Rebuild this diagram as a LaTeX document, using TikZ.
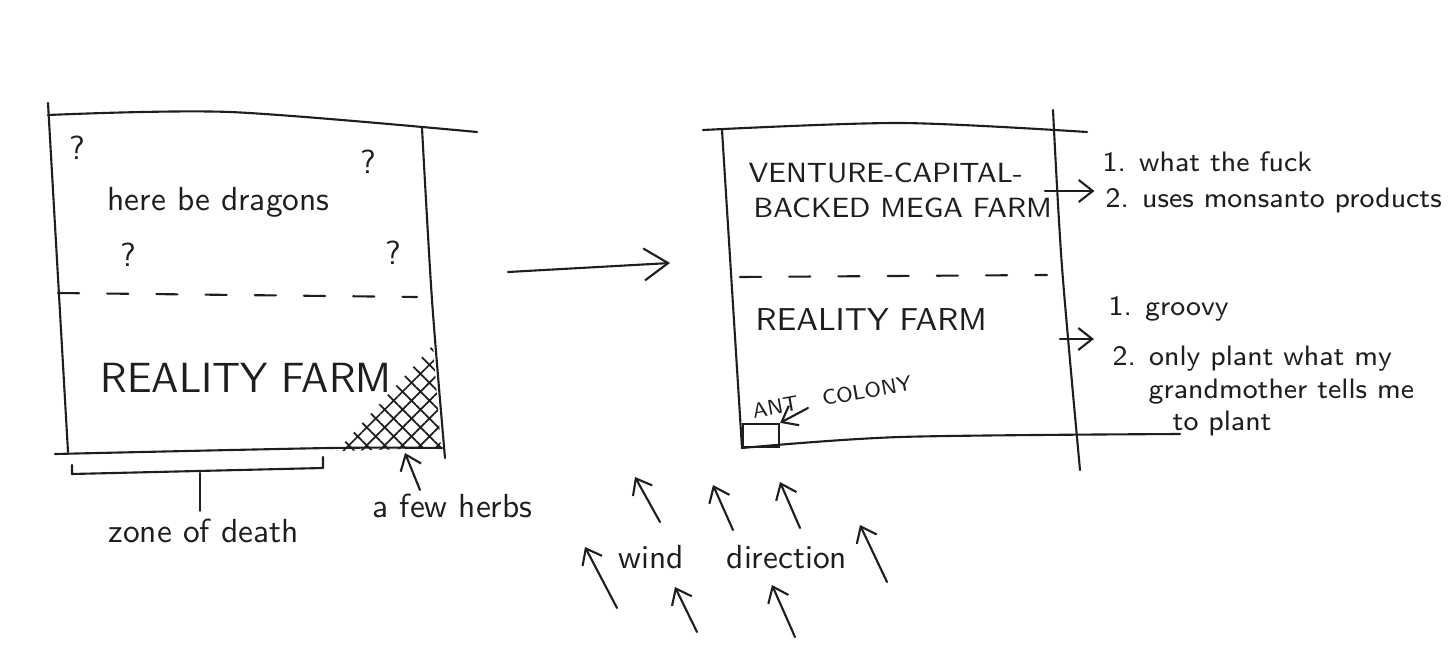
\documentclass[tikz,border=0pt]{standalone}
\usepackage{xcolor}
\usetikzlibrary{arrows.meta,patterns.meta}
\definecolor{ink}{HTML}{1E1E1E}
\definecolor{paper}{HTML}{FFFFFF}
\tikzset{
  >={Straight Barb[length=1.4mm,width=2.2mm]},
  pen/.style={draw=ink,line width=0.6pt,line cap=round,line join=round},
  divider/.style={pen,dash pattern=on 6pt off 8pt},
  pointer/.style={->,pen},
  bigpointer/.style={-{Straight Barb[length=2.4mm,width=3.2mm]},pen},
  windarrow/.style={->,pen},
  hatchfill/.style={pattern={Hatch[angle=45,distance=3.6pt,line width=0.5pt]},pattern color=ink},
  hand/.style={font=\sffamily\fontsize{9.5}{11}\selectfont,text=ink,inner sep=0pt},
  handbig/.style={font=\sffamily\fontsize{12}{14}\selectfont,text=ink,inner sep=0pt},
  handmid/.style={font=\sffamily\fontsize{9}{11}\selectfont,text=ink,inner sep=0pt},
  handcaps/.style={font=\sffamily\fontsize{7.9}{10}\selectfont,text=ink,inner sep=0pt},
  handlist/.style={font=\sffamily\fontsize{8}{10}\selectfont,text=ink,inner sep=0pt,anchor=base west},
  handtiny/.style={font=\sffamily\fontsize{6}{8}\selectfont,text=ink,inner sep=0pt},
}

\begin{document}
\begin{tikzpicture}[x=0.1mm,y=-0.1mm]
\useasboundingbox[fill=paper] (0,0) rectangle (1456,669);

% (a) Old farm ------------------------------------------------------------------
\draw[pen] plot[smooth] coordinates {(48,115) (230,112) (477,132)};
\draw[pen] (48,103) -- (68,452);
\draw[pen] plot[smooth] coordinates {(422,128) (432,300) (445,458)};
\draw[pen] plot[smooth] coordinates {(55,454) (330,448) (442,448)};
\draw[divider] (58,293) -- (417,297);
\fill[hatchfill] (337,451) -- (441,448) -- (433,345) -- cycle;

\foreach \qx/\qy [count=\i] in {77/148, 368/162, 128/255, 393/253}
  \node[hand] (q\i) at (\qx,\qy) {?};
\node[hand,anchor=base west] (dragons) at (107,210) {here be dragons};
\node[handbig,anchor=base west] (realityL) at (100,392) {REALITY FARM};

\draw[pen] (72,465) -- (72,474) -- (323,468) -- (323,457);
\coordinate (zonetop) at (200,473);
\node[hand,anchor=base west] (zone) at (108,542) {zone of death};
\draw[pen] (zonetop) -- ([yshift=2pt]zone.north -| zonetop);

\node[hand,anchor=base west] (herbs) at (372,517) {a few herbs};
\coordinate (herbtail) at (420,490);
\coordinate (herbtip) at (405,453);
\draw[pointer] (herbtail) -- (herbtip);

% move over ---------------------------------------------------------------------
\coordinate (oldout) at (508,272);
\coordinate (newin) at (670,263);
\draw[bigpointer] (oldout) -- (newin);

% (b) New farm ------------------------------------------------------------------
\draw[pen] plot[smooth] coordinates {(703,130) (900,123) (1087,132)};
\draw[pen] (722,130) -- (742,448);
\draw[pen] plot[smooth] coordinates {(1053,110) (1062,267) (1080,470)};
\draw[pen] plot[smooth] coordinates {(742,448) (900,437) (1180,434)};
\draw[divider] (740,277) -- (1047,275);

\node[handcaps,anchor=base west] (venture) at (748,182) {VENTURE-CAPITAL-};
\node[handcaps,anchor=base west] (mega) at (753,217) {BACKED MEGA FARM};
\node[handmid,anchor=base west] (realityR) at (755,330) {REALITY FARM};

\node[draw=ink,line width=0.6pt,minimum width=3.6mm,minimum height=2.3mm,inner sep=0pt,anchor=south west] (antbox) at (742,448) {};
\node[handtiny,rotate=10] (ant) at (832,397) {ANT\hspace{7pt}COLONY};
\coordinate (anttail) at (808,408);
\draw[pointer] (anttail) -- (antbox.north east);

% outcomes ----------------------------------------------------------------------
\node[handlist] (wtf) at (1102,171) {1. what the fuck};
\node[handlist] (monsanto) at (1105,207) {2. uses monsanto products};
\node[handlist] (groovy) at (1108,315) {1. groovy};
\node[handlist] (only) at (1112,365) {2. only plant what my};
\node[handlist] (grandma) at (1148,398) {grandmother tells me};
\node[handlist] (toplant) at (1172,430) {to plant};

\coordinate (megaout) at (1045,191);
\coordinate (realout) at (1060,339);
\draw[pointer] (megaout) -- ([xshift=-3pt]monsanto.west |- megaout);
\draw[pointer] (realout) -- ([xshift=-4pt]groovy.west |- realout);

% wind --------------------------------------------------------------------------
\foreach \sx/\sy/\ex/\ey [count=\i] in {660/522/635/477, 733/530/713/485, 800/528/780/482,
    617/608/585/547, 697/632/675/587, 795/637/772/585, 887/582/860/525} {
  \coordinate (wtail\i) at (\sx,\sy);
  \coordinate (whead\i) at (\ex,\ey);
  \draw[windarrow] (wtail\i) -- (whead\i);
}
\node[hand,anchor=base west] (wind) at (618,568) {wind\hspace{9pt} direction};

\end{tikzpicture}
\end{document}
